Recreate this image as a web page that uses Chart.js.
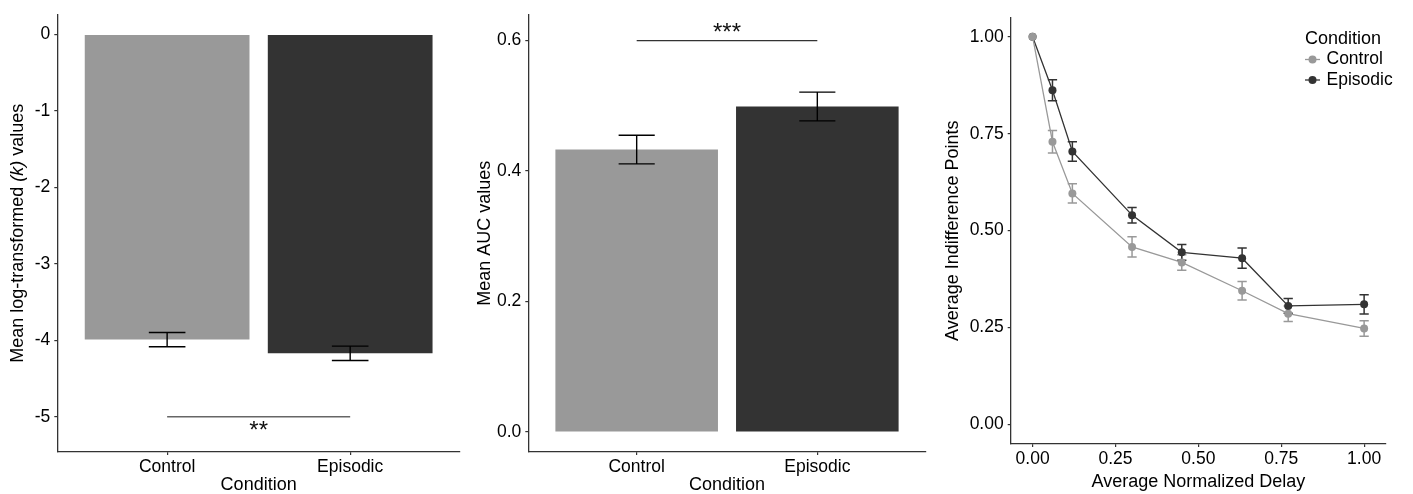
<!DOCTYPE html>
<html>
<head>
<meta charset="utf-8">
<script src="https://cdn.jsdelivr.net/npm/chart.js@4"></script>
<style>
  body { margin: 0; background: #fff; }
  #wrap { position: relative; width: 1413px; height: 494px; }
  canvas { position: absolute; top: 0; }
</style>
</head>
<body>
<div id="wrap">
  <canvas id="logk" width="470" height="494" style="left:0px"></canvas>
  <canvas id="auc" width="470" height="494" style="left:470px"></canvas>
  <canvas id="curve" width="473" height="494" style="left:940px"></canvas>
</div>
<script>
// values
const conditions = ['Control', 'Episodic'];
const barColors = ['#999999', '#333333'];

const logKMeans = [-3.99, -4.17];
const logKSE = [0.093, 0.094];
const logKTicks = [0, -1, -2, -3, -4, -5];
const logKSig = { level: -5, labelLevel: -5.14, label: '**' };

const aucMeans = [0.433, 0.499];
const aucSE = [0.022, 0.022];
const aucTicks = [0, 0.2, 0.4, 0.6];
const aucSig = { level: 0.6, labelLevel: 0.617, label: '***' };

const delays = [0, 0.06, 0.12, 0.30, 0.45, 0.632, 0.771, 1.0];
const controlPoints = [1.0, 0.729, 0.596, 0.458, 0.418, 0.345, 0.286, 0.248];
const controlSE = [0, 0.029, 0.025, 0.026, 0.02, 0.024, 0.02, 0.02];
const episodicPoints = [1.0, 0.862, 0.704, 0.54, 0.444, 0.429, 0.306, 0.31];
const episodicSE = [0, 0.027, 0.025, 0.02, 0.02, 0.026, 0.019, 0.025];
const delayTicks = [0, 0.25, 0.5, 0.75, 1];
const pointTicks = [0, 0.25, 0.5, 0.75, 1];

const FONT = '"Liberation Sans", Arial, sans-serif';
const TEXT = '#000000';
const AXIS = '#333333';
const STAR = 24;

function axisLook(extra) {
  return Object.assign({
    grid: { display: true, drawOnChartArea: false, drawTicks: true, tickLength: 3, color: AXIS, lineWidth: 1.2, offset: false },
    border: { display: true, color: AXIS, width: 1.3 },
  }, extra);
}

// error bars + significance line for the two bar panels
function barExtras(means, se, sig, sigColor) {
  return {
    id: 'barExtras',
    afterDatasetsDraw(chart) {
      const { ctx, scales: { x, y } } = chart;
      ctx.save();
      ctx.strokeStyle = '#000';
      ctx.lineWidth = 1.4;
      means.forEach((m, i) => {
        const cx = x.getPixelForValue(i + 1);
        const hw = x.getPixelForValue(i + 1.1) - cx;
        const top = y.getPixelForValue(m + se[i]);
        const bot = y.getPixelForValue(m - se[i]);
        ctx.beginPath();
        ctx.moveTo(cx - hw, top); ctx.lineTo(cx + hw, top);
        ctx.moveTo(cx, top); ctx.lineTo(cx, bot);
        ctx.moveTo(cx - hw, bot); ctx.lineTo(cx + hw, bot);
        ctx.stroke();
      });
      const ly = y.getPixelForValue(sig.level);
      ctx.strokeStyle = sigColor;
      ctx.lineWidth = 1.4;
      ctx.beginPath();
      ctx.moveTo(x.getPixelForValue(1), ly);
      ctx.lineTo(x.getPixelForValue(2), ly);
      ctx.stroke();
      // asterisks sit high in the em box, so drop the baseline below the visual centre
      ctx.fillStyle = '#111';
      ctx.font = STAR + 'px ' + FONT;
      ctx.textAlign = 'center';
      ctx.textBaseline = 'alphabetic';
      ctx.fillText(sig.label, x.getPixelForValue(1.5), y.getPixelForValue(sig.labelLevel) + 0.45 * STAR);
      ctx.restore();
    }
  };
}

function barChart(id, means, se, yMin, yMax, yTicks, fmt, sig, sigColor, yTitle, box) {
  const plugins = [barExtras(means, se, sig, sigColor)];
  if (!yTitle) plugins.push(italicTitle);
  return new Chart(document.getElementById(id), {
    type: 'bar',
    data: {
      datasets: [{
        data: conditions.map((c, i) => ({ x: i + 1, y: means[i] })),
        backgroundColor: barColors,
        borderWidth: 0,
        categoryPercentage: 0.9,
        barPercentage: 1,
      }]
    },
    options: {
      responsive: false,
      animation: false,
      layout: { padding: { top: box.top, right: box.right, left: 0, bottom: 0 } },
      plugins: { legend: { display: false }, tooltip: { enabled: false } },
      scales: {
        x: axisLook({
          type: 'linear', min: 0.4, max: 2.6, offset: false,
          afterBuildTicks: s => { s.ticks = conditions.map((c, i) => ({ value: i + 1 })); },
          afterFit: s => { s.height = 494 - box.bottom; },
          ticks: { callback: v => conditions[v - 1], color: TEXT, font: { family: FONT, size: 17.5 }, padding: 2, maxRotation: 0 },
          title: { display: true, text: 'Condition', color: TEXT, font: { family: FONT, size: 18, lineHeight: 1 }, padding: { top: 0, bottom: 0 } },
        }),
        y: axisLook({
          type: 'linear', min: yMin, max: yMax,
          afterBuildTicks: s => { s.ticks = yTicks.map(v => ({ value: v })); },
          afterFit: s => { s.width = box.left; },
          ticks: { callback: fmt, color: TEXT, font: { family: FONT, size: 17.5 }, padding: 4 },
          title: yTitle ? { display: true, text: yTitle, color: TEXT, font: { family: FONT, size: 18, lineHeight: 1 }, padding: { top: box.titleX - 9, bottom: 0 } } : { display: false },
        }),
      }
    },
    plugins
  });
}

// y title with italic (k) for the first panel
const italicTitle = {
  id: 'italicTitle',
  afterDraw(chart) {
    const { ctx, chartArea } = chart;
    const parts = [
      ['Mean log-transformed ', 'normal'],
      ['(k)', 'italic'],
      [' values', 'normal'],
    ];
    ctx.save();
    ctx.translate(18, (chartArea.top + chartArea.bottom) / 2);
    ctx.rotate(-Math.PI / 2);
    ctx.fillStyle = TEXT;
    ctx.textBaseline = 'middle';
    ctx.textAlign = 'left';
    let total = 0;
    parts.forEach(p => { ctx.font = p[1] + ' 18px ' + FONT; total += ctx.measureText(p[0]).width; });
    let pos = -total / 2;
    parts.forEach(p => {
      ctx.font = p[1] + ' 18px ' + FONT;
      ctx.fillText(p[0], pos, 0);
      pos += ctx.measureText(p[0]).width;
    });
    ctx.restore();
  }
};

barChart('logk', logKMeans, logKSE, -5.46, 0.26, logKTicks, v => String(v), logKSig, '#666666', null,
  { left: 57.3, right: 10, top: 13, bottom: 452 });
barChart('auc', aucMeans, aucSE, -0.0306, 0.64, aucTicks, v => v.toFixed(1), aucSig, '#333333', 'Mean AUC values',
  { left: 58.3, right: 14.3, top: 13, bottom: 452, titleX: 15 });

// third panel: indifference curves
const series = [
  { label: 'Control', values: controlPoints, se: controlSE, color: '#999999' },
  { label: 'Episodic', values: episodicPoints, se: episodicSE, color: '#333333' },
];

const curveErrors = {
  id: 'curveErrors',
  beforeDatasetsDraw(chart) {
    const { ctx, scales: { x, y } } = chart;
    ctx.save();
    ctx.lineWidth = 1.5;
    series.forEach(s => {
      ctx.strokeStyle = s.color;
      delays.forEach((d, i) => {
        if (!s.se[i]) return;
        const cx = x.getPixelForValue(d);
        const hw = x.getPixelForValue(d + 0.014) - cx;
        const top = y.getPixelForValue(s.values[i] + s.se[i]);
        const bot = y.getPixelForValue(s.values[i] - s.se[i]);
        ctx.beginPath();
        ctx.moveTo(cx - hw, top); ctx.lineTo(cx + hw, top);
        ctx.moveTo(cx, top); ctx.lineTo(cx, bot);
        ctx.moveTo(cx - hw, bot); ctx.lineTo(cx + hw, bot);
        ctx.stroke();
      });
    });
    ctx.restore();
  }
};

const curveLegend = {
  id: 'curveLegend',
  afterDraw(chart) {
    const { ctx } = chart;
    const x0 = 365, y0 = 39, step = 20.5;
    ctx.save();
    ctx.fillStyle = TEXT;
    ctx.textBaseline = 'middle';
    ctx.textAlign = 'left';
    ctx.font = '18px ' + FONT;
    ctx.fillText('Condition', x0, y0);
    ctx.font = '17.5px ' + FONT;
    series.forEach((s, i) => {
      const yy = y0 + step * (i + 1);
      ctx.strokeStyle = s.color;
      ctx.lineWidth = 1.3;
      ctx.beginPath(); ctx.moveTo(x0, yy); ctx.lineTo(x0 + 15, yy); ctx.stroke();
      ctx.fillStyle = s.color;
      ctx.beginPath(); ctx.arc(x0 + 7.5, yy, 4, 0, Math.PI * 2); ctx.fill();
      ctx.fillStyle = TEXT;
      ctx.fillText(s.label, x0 + 21.5, yy);
    });
    ctx.restore();
  }
};

new Chart(document.getElementById('curve'), {
  type: 'line',
  data: {
    datasets: series.map(s => ({
      label: s.label,
      data: delays.map((d, i) => ({ x: d, y: s.values[i] })),
      borderColor: s.color,
      backgroundColor: s.color,
      borderWidth: 1.3,
      pointRadius: 4,
      pointBorderWidth: 0,
      pointBackgroundColor: s.color,
      tension: 0,
    }))
  },
  options: {
    responsive: false,
    animation: false,
    layout: { padding: { top: 17.3, right: 27, left: 0, bottom: 0 } },
    plugins: { legend: { display: false }, tooltip: { enabled: false } },
    scales: {
      x: axisLook({
        type: 'linear', min: -0.066, max: 1.066,
        afterBuildTicks: s => { s.ticks = delayTicks.map(v => ({ value: v })); },
        afterFit: s => { s.height = 494 - 444; },
        ticks: { callback: v => v.toFixed(2), color: TEXT, font: { family: FONT, size: 17.5 }, padding: 2, maxRotation: 0 },
        title: { display: true, text: 'Average Normalized Delay', color: TEXT, font: { family: FONT, size: 18, lineHeight: 1 }, padding: { top: 0, bottom: 3 } },
      }),
      y: axisLook({
        type: 'linear', min: -0.05, max: 1.05,
        afterBuildTicks: s => { s.ticks = pointTicks.map(v => ({ value: v })); },
        afterFit: s => { s.width = 70.7; },
        ticks: { callback: v => v.toFixed(2), color: TEXT, font: { family: FONT, size: 17.5 }, padding: 4 },
        title: { display: true, text: 'Average Indifference Points', color: TEXT, font: { family: FONT, size: 18, lineHeight: 1 }, padding: { top: 4.3, bottom: 0 } },
      }),
    }
  },
  plugins: [curveErrors, curveLegend]
});
</script>
</body>
</html>
